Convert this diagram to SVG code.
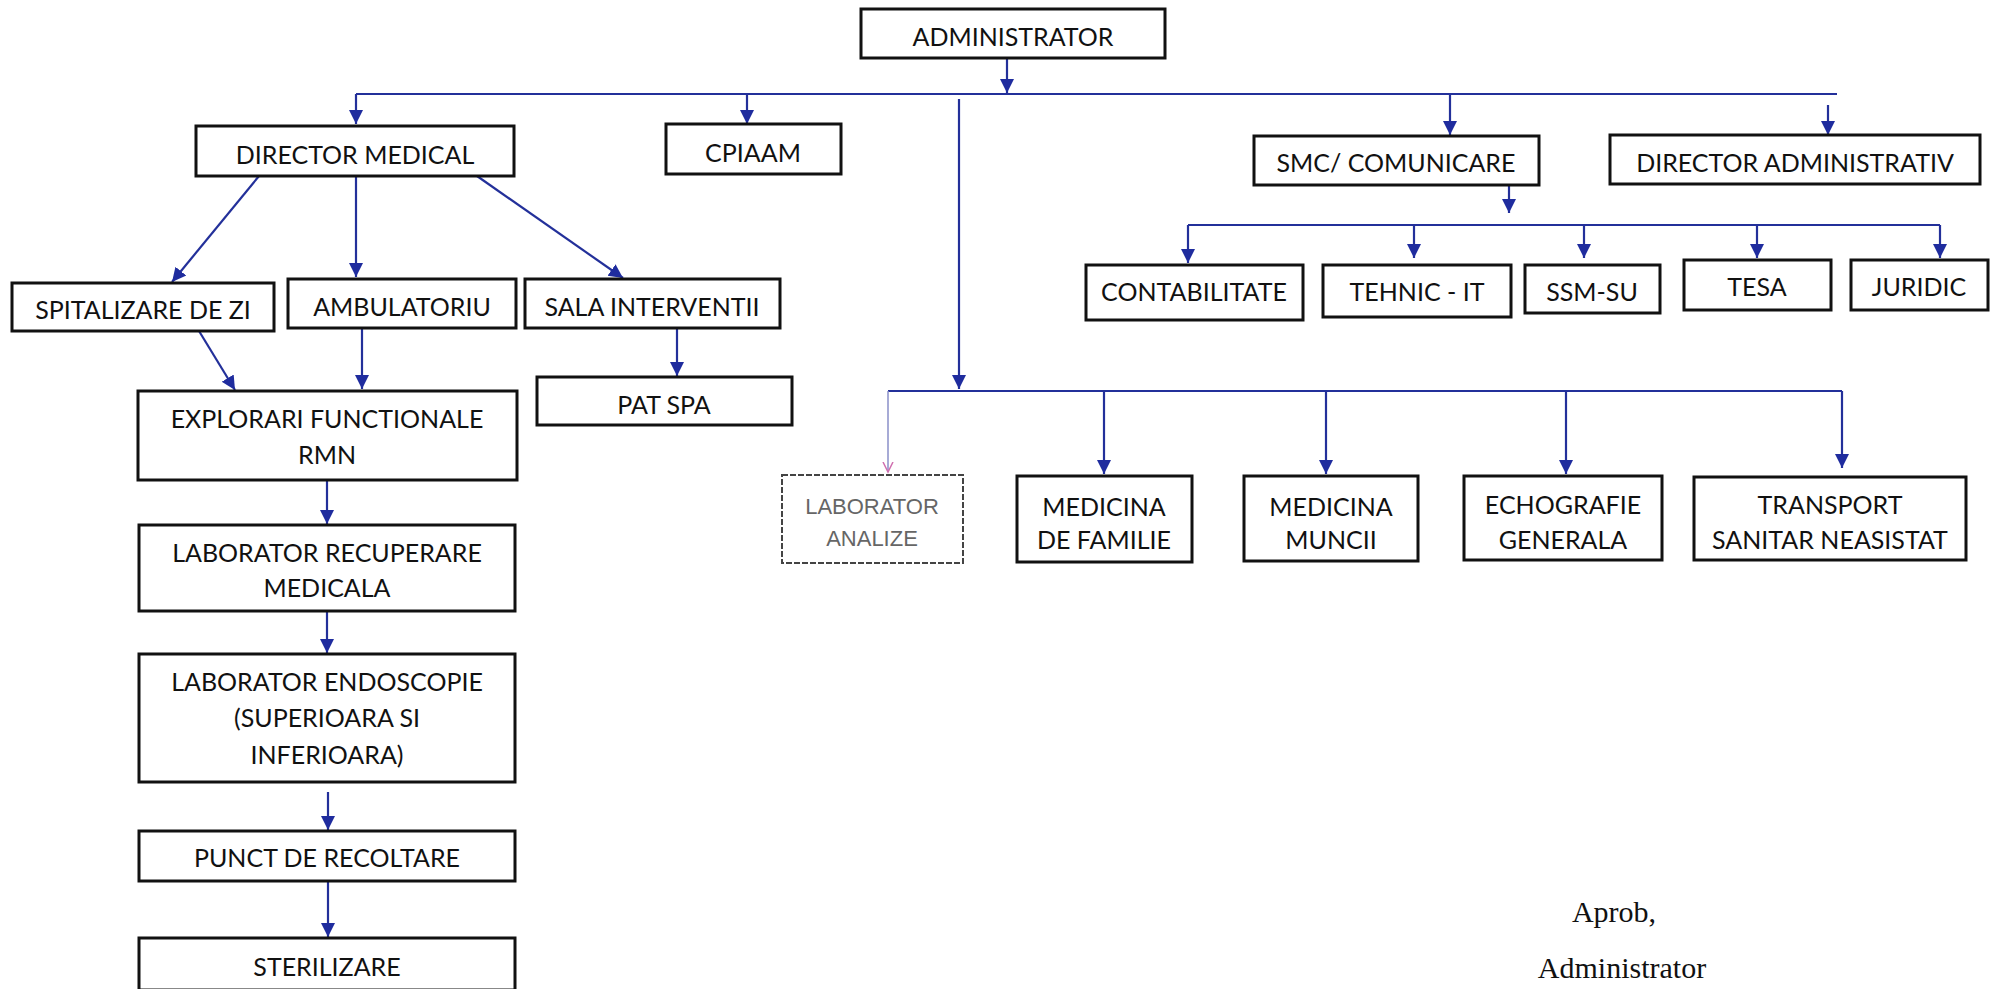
<svg xmlns="http://www.w3.org/2000/svg" width="1993" height="989" viewBox="0 0 1993 989">
<style>
.box{fill:#fff;stroke:#111;stroke-width:3}
.faded{fill:#fff;stroke:#444;stroke-width:2;stroke-dasharray:6 2}
.t{font-family:Lato,"Open Sans",sans-serif;font-size:25px;fill:#111;text-anchor:middle}
.tg{font-family:"Liberation Sans",Arial,sans-serif;font-size:22px;fill:#666;text-anchor:middle}
.sig{font-family:"Liberation Serif","Times New Roman",serif;font-size:30px;fill:#111;text-anchor:middle}
.c{fill:none;stroke:#23309a;stroke-width:2.2}
.cp{fill:none;stroke:#8a8fc8;stroke-width:1.5}
</style>
<defs>
<marker id="ah" markerUnits="userSpaceOnUse" markerWidth="16" markerHeight="16" viewBox="0 0 16 16" refX="14" refY="8" orient="auto">
<path d="M0,1 L14,8 L0,15 Z" fill="#1f2c9e"/>
</marker>
<marker id="ahp" markerUnits="userSpaceOnUse" markerWidth="12" markerHeight="12" viewBox="0 0 12 12" refX="10" refY="6" orient="auto">
<path d="M0,1 L10,6 L0,11" fill="none" stroke="#d070b0" stroke-width="1.5"/>
</marker>
</defs>
<rect width="1993" height="989" fill="#fff"/>

<g id="connectors">
<line class="c" x1="1007" y1="58" x2="1007" y2="93" marker-end="url(#ah)"/>
<line class="c" x1="356" y1="94" x2="1837" y2="94"/>
<line class="c" x1="356" y1="94" x2="356" y2="124" marker-end="url(#ah)"/>
<line class="c" x1="747" y1="94" x2="747" y2="124" marker-end="url(#ah)"/>
<line class="c" x1="1450" y1="94" x2="1450" y2="135" marker-end="url(#ah)"/>
<line class="c" x1="1828" y1="105" x2="1828" y2="135" marker-end="url(#ah)"/>
<line class="c" x1="959" y1="99" x2="959" y2="389" marker-end="url(#ah)"/>
<line class="c" x1="888" y1="391" x2="1842" y2="391"/>
<line class="cp" x1="888" y1="391" x2="888" y2="472" marker-end="url(#ahp)"/>
<line class="c" x1="1104" y1="391" x2="1104" y2="474" marker-end="url(#ah)"/>
<line class="c" x1="1326" y1="391" x2="1326" y2="474" marker-end="url(#ah)"/>
<line class="c" x1="1566" y1="391" x2="1566" y2="474" marker-end="url(#ah)"/>
<line class="c" x1="1842" y1="391" x2="1842" y2="468" marker-end="url(#ah)"/>
<line class="c" x1="1509" y1="173" x2="1509" y2="213" marker-end="url(#ah)"/>
<line class="c" x1="1188" y1="225" x2="1940" y2="225"/>
<line class="c" x1="1188" y1="225" x2="1188" y2="263" marker-end="url(#ah)"/>
<line class="c" x1="1414" y1="225" x2="1414" y2="258" marker-end="url(#ah)"/>
<line class="c" x1="1584" y1="225" x2="1584" y2="258" marker-end="url(#ah)"/>
<line class="c" x1="1757" y1="225" x2="1757" y2="258" marker-end="url(#ah)"/>
<line class="c" x1="1940" y1="225" x2="1940" y2="258" marker-end="url(#ah)"/>
<line class="c" x1="259" y1="176" x2="172" y2="282" marker-end="url(#ah)"/>
<line class="c" x1="356" y1="176" x2="356" y2="277" marker-end="url(#ah)"/>
<line class="c" x1="477" y1="176" x2="623" y2="278" marker-end="url(#ah)"/>
<line class="c" x1="199" y1="331" x2="235" y2="390" marker-end="url(#ah)"/>
<line class="c" x1="362" y1="328" x2="362" y2="389" marker-end="url(#ah)"/>
<line class="c" x1="677" y1="328" x2="677" y2="376" marker-end="url(#ah)"/>
<line class="c" x1="327" y1="480" x2="327" y2="524" marker-end="url(#ah)"/>
<line class="c" x1="327" y1="611" x2="327" y2="653" marker-end="url(#ah)"/>
<line class="c" x1="328" y1="792" x2="328" y2="830" marker-end="url(#ah)"/>
<line class="c" x1="328" y1="881" x2="328" y2="937" marker-end="url(#ah)"/>
</g>

<g id="n-administrator"><rect class="box" x="861" y="9" width="304" height="49"/><text class="t" x="1013" y="46">ADMINISTRATOR</text></g>
<g id="n-director-medical"><rect class="box" x="196" y="126" width="318" height="50"/><text class="t" x="355" y="164">DIRECTOR MEDICAL</text></g>
<g id="n-cpiaam"><rect class="box" x="666" y="124" width="175" height="50"/><text class="t" x="753" y="162">CPIAAM</text></g>
<g id="n-smc"><rect class="box" x="1254" y="136" width="285" height="49"/><text class="t" x="1396" y="172">SMC/ COMUNICARE</text></g>
<g id="n-director-adm"><rect class="box" x="1610" y="135" width="370" height="49"/><text class="t" x="1795" y="172">DIRECTOR ADMINISTRATIV</text></g>
<g id="n-spitalizare"><rect class="box" x="12" y="283" width="262" height="48"/><text class="t" x="143" y="319">SPITALIZARE DE ZI</text></g>
<g id="n-ambulatoriu"><rect class="box" x="288" y="279" width="228" height="49"/><text class="t" x="402" y="316">AMBULATORIU</text></g>
<g id="n-sala"><rect class="box" x="525" y="279" width="255" height="49"/><text class="t" x="652" y="316">SALA INTERVENTII</text></g>
<g id="n-pat-spa"><rect class="box" x="537" y="377" width="255" height="48"/><text class="t" x="664" y="414">PAT SPA</text></g>
<g id="n-explorari"><rect class="box" x="138" y="391" width="379" height="89"/><text class="t" x="327" y="428">EXPLORARI FUNCTIONALE</text><text class="t" x="327" y="464">RMN</text></g>
<g id="n-lab-recuperare"><rect class="box" x="139" y="525" width="376" height="86"/><text class="t" x="327" y="562">LABORATOR RECUPERARE</text><text class="t" x="327" y="597">MEDICALA</text></g>
<g id="n-lab-endoscopie"><rect class="box" x="139" y="654" width="376" height="128"/><text class="t" x="327" y="691">LABORATOR ENDOSCOPIE</text><text class="t" x="327" y="727">(SUPERIOARA SI</text><text class="t" x="327" y="764">INFERIOARA)</text></g>
<g id="n-punct"><rect class="box" x="139" y="831" width="376" height="50"/><text class="t" x="327" y="867">PUNCT DE RECOLTARE</text></g>
<g id="n-sterilizare"><rect class="box" x="139" y="938" width="376" height="52"/><text class="t" x="327" y="976">STERILIZARE</text></g>
<g id="n-contabilitate"><rect class="box" x="1086" y="265" width="217" height="55"/><text class="t" x="1194" y="301">CONTABILITATE</text></g>
<g id="n-tehnic"><rect class="box" x="1323" y="265" width="188" height="52"/><text class="t" x="1417" y="301">TEHNIC - IT</text></g>
<g id="n-ssm"><rect class="box" x="1525" y="265" width="135" height="48"/><text class="t" x="1592" y="301">SSM-SU</text></g>
<g id="n-tesa"><rect class="box" x="1684" y="260" width="147" height="50"/><text class="t" x="1757" y="296">TESA</text></g>
<g id="n-juridic"><rect class="box" x="1851" y="260" width="137" height="50"/><text class="t" x="1919" y="296">JURIDIC</text></g>
<g id="n-lab-analize"><rect class="faded" x="782" y="475" width="181" height="88"/><text class="tg" x="872" y="514">LABORATOR</text><text class="tg" x="872" y="546">ANALIZE</text></g>
<g id="n-med-familie"><rect class="box" x="1017" y="476" width="175" height="86"/><text class="t" x="1104" y="516">MEDICINA</text><text class="t" x="1104" y="549">DE FAMILIE</text></g>
<g id="n-med-muncii"><rect class="box" x="1244" y="476" width="174" height="85"/><text class="t" x="1331" y="516">MEDICINA</text><text class="t" x="1331" y="549">MUNCII</text></g>
<g id="n-echografie"><rect class="box" x="1464" y="476" width="198" height="84"/><text class="t" x="1563" y="514">ECHOGRAFIE</text><text class="t" x="1563" y="549">GENERALA</text></g>
<g id="n-transport"><rect class="box" x="1694" y="477" width="272" height="83"/><text class="t" x="1830" y="514">TRANSPORT</text><text class="t" x="1830" y="549">SANITAR NEASISTAT</text></g>

<g id="signature"><text class="sig" x="1614" y="922">Aprob,</text><text class="sig" x="1622" y="978">Administrator</text></g>
</svg>
